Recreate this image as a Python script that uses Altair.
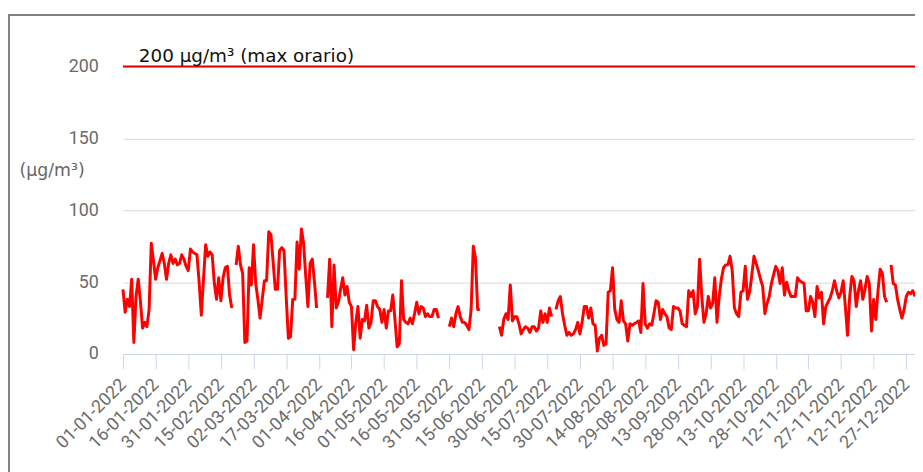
import altair as alt
import pandas as pd

# ---- data (daily means, 2022) ----
seg_start = ["2022-01-01", "2022-02-22", "2022-04-05", "2022-05-31",
             "2022-06-23", "2022-07-19", "2022-12-20"]

seg_a = [45, 29, 38, 33, 52, 8, 40, 52, 37, 18, 22, 19, 31, 77, 65, 52, 60, 65, 70, 63,
         52, 63, 69, 63, 66, 62, 63, 69, 66, 61, 58, 73, 71, 70, 69, 50, 27, 52, 76, 68,
         71, 69, 49, 38, 53, 37, 53, 60, 61, 41, 32]
seg_b = [62, 75, 62, 56, 8, 9, 60, 48, 76, 49, 38, 25, 38, 51, 51, 85, 83, 64, 45, 45,
         72, 74, 72, 40, 11, 12, 38, 38, 78, 59, 87, 77, 54, 33, 63, 66, 50, 32]
seg_c = [39, 66, 19, 62, 32, 36, 45, 53, 41, 47, 36, 33, 3, 22, 33, 11, 24, 23, 34, 18,
         22, 37, 37, 33, 31, 22, 31, 18, 30, 30, 41, 24, 5, 7, 51, 24, 22, 21, 25, 21,
         28, 36, 28, 33, 32, 26, 28, 26, 26, 31, 31, 25]
seg_d = [19, 25, 19, 28, 33, 26, 22, 22, 20, 17, 31, 75, 67, 31, 31]
seg_e = [19, 13, 24, 28, 24, 48, 23, 26, 26, 21, 14, 17, 19, 18, 15, 19, 19, 16, 18, 30,
         22, 28, 22, 32, 26]
seg_f = [31, 37, 40, 28, 20, 13, 15, 13, 14, 17,
         22, 14, 22, 33, 33, 25, 32, 21, 20, 2,
         11, 13, 6, 7, 43, 44, 60, 31, 24, 22,
         37, 23, 21, 9, 21, 20, 21, 22, 23, 15,
         49, 21, 18, 21, 20, 28, 37, 36, 24, 31,
         28, 26, 18, 17, 33, 32, 32, 30, 21, 20,
         19, 44, 40, 44, 28, 33, 66, 40, 22, 28,
         40, 32, 35, 53, 22, 40, 52, 60, 62, 62,
         68, 58, 32, 28, 26, 43, 44, 61, 38, 43,
         55, 68, 63, 58, 52, 47, 28, 35, 40, 49,
         55, 61, 58, 49, 60, 41, 50, 44, 40, 40,
         40, 53, 51, 50, 49, 30, 30, 40, 36, 26,
         47, 39, 43, 21, 33, 36, 39, 44, 51, 44,
         39, 43, 51, 33, 13, 40, 54, 51, 33, 44,
         51, 38, 45, 54, 49, 16, 38, 24, 44, 59,
         56, 40, 36]
seg_g = [62, 49, 48, 38, 31, 25, 31, 40, 43, 42, 44, 40]

segments = [seg_a, seg_b, seg_c, seg_d, seg_e, seg_f, seg_g]

tick_labels = ["01-01-2022", "16-01-2022", "31-01-2022", "15-02-2022", "02-03-2022",
               "17-03-2022", "01-04-2022", "16-04-2022", "01-05-2022", "16-05-2022",
               "31-05-2022", "15-06-2022", "30-06-2022", "15-07-2022", "30-07-2022",
               "14-08-2022", "29-08-2022", "13-09-2022", "28-09-2022", "13-10-2022",
               "28-10-2022", "12-11-2022", "27-11-2022", "12-12-2022", "27-12-2022"]

y_ticks = [0, 50, 100, 150, 200]
limit_value = [200]
limit_text = ["200 µg/m³ (max orario)"]
y_title = "(µg/m³)"

# ---- build tables ----
rows = []
for i, (start, vals) in enumerate(zip(seg_start, segments)):
    dates = pd.date_range(start, periods=len(vals), freq="D")
    for d, v in zip(dates, vals):
        rows.append({"data": d.strftime("%Y-%m-%dT00:00:00"), "valore": v, "tratto": i})
df = pd.DataFrame(rows)

def to_dt(s):
    dd, mm, yy = s.split("-")
    return alt.DateTime(year=int(yy), month=int(mm), date=int(dd))

tick_vals = [to_dt(s) for s in tick_labels]
limit_df = pd.DataFrame({"valore": limit_value, "testo": limit_text})

FONT = "DejaVu Sans"
x_scale = alt.Scale(domain=[alt.DateTime(year=2022, month=1, date=1),
                            alt.DateTime(year=2022, month=12, date=31)])
y_scale = alt.Scale(domain=[0, 200])

x_axis = alt.Axis(values=tick_vals, format="%d-%m-%Y", labelAngle=-45,
                  labelAlign="right", labelBaseline="middle",
                  labelFontSize=18, labelColor="#6b6b6b", labelFont="Roboto",
                  tickColor="#ccd6eb", tickSize=15, domainColor="#ccd6eb",
                  labelPadding=13, grid=False, title=None,
                  labelOverlap=False, labelFlush=False)
y_axis = alt.Axis(values=y_ticks, labelFontSize=18, labelColor="#6b6b6b", labelFont="Roboto",
                  labelPadding=25, ticks=False, domain=False, grid=True,
                  gridColor="#d9d9d9", gridWidth=1,
                  title=y_title, titleAngle=0, titleFontSize=17.5, titleFont=FONT,
                  titleFontWeight="normal", titleColor="#666666",
                  titleX=-72, titleY=105, titleAlign="center", titleBaseline="middle")

line = alt.Chart(df).mark_line(color="#ff0000", strokeWidth=3, strokeJoin="round").encode(
    x=alt.X("data:T", scale=x_scale, axis=x_axis),
    y=alt.Y("valore:Q", scale=y_scale, axis=y_axis),
    detail="tratto:N",
)

limit_rule = alt.Chart(limit_df).mark_rule(color="#e00000", strokeWidth=2).encode(
    y=alt.Y("valore:Q", scale=y_scale),
    x=alt.value(0), x2=alt.value(800),
)
limit_label = alt.Chart(limit_df).mark_text(
    align="left", baseline="alphabetic", dy=-5, fontSize=18.5, font=FONT, color="#111111"
).encode(
    y=alt.Y("valore:Q", scale=y_scale),
    x=alt.value(16),
    text="testo:N",
)

frame_df = pd.DataFrame({"k": [0]})
frame_left = alt.Chart(frame_df).mark_rule(color="#808080", strokeWidth=2).encode(
    x=alt.value(-115), y=alt.value(-53), y2=alt.value(420))
frame_top = alt.Chart(frame_df).mark_rule(color="#808080", strokeWidth=2).encode(
    x=alt.value(-116), x2=alt.value(820), y=alt.value(-52))

chart = alt.layer(frame_left, frame_top, line, limit_rule, limit_label).properties(
    width=799, height=290,
    autosize=alt.AutoSizeParams(type="none"),
    padding={"left": 116, "top": 57, "right": 0, "bottom": 117},
    background="white",
).configure_view(strokeWidth=0)

chart.save("out.html", embed_options={"renderer": "svg", "actions": False})
